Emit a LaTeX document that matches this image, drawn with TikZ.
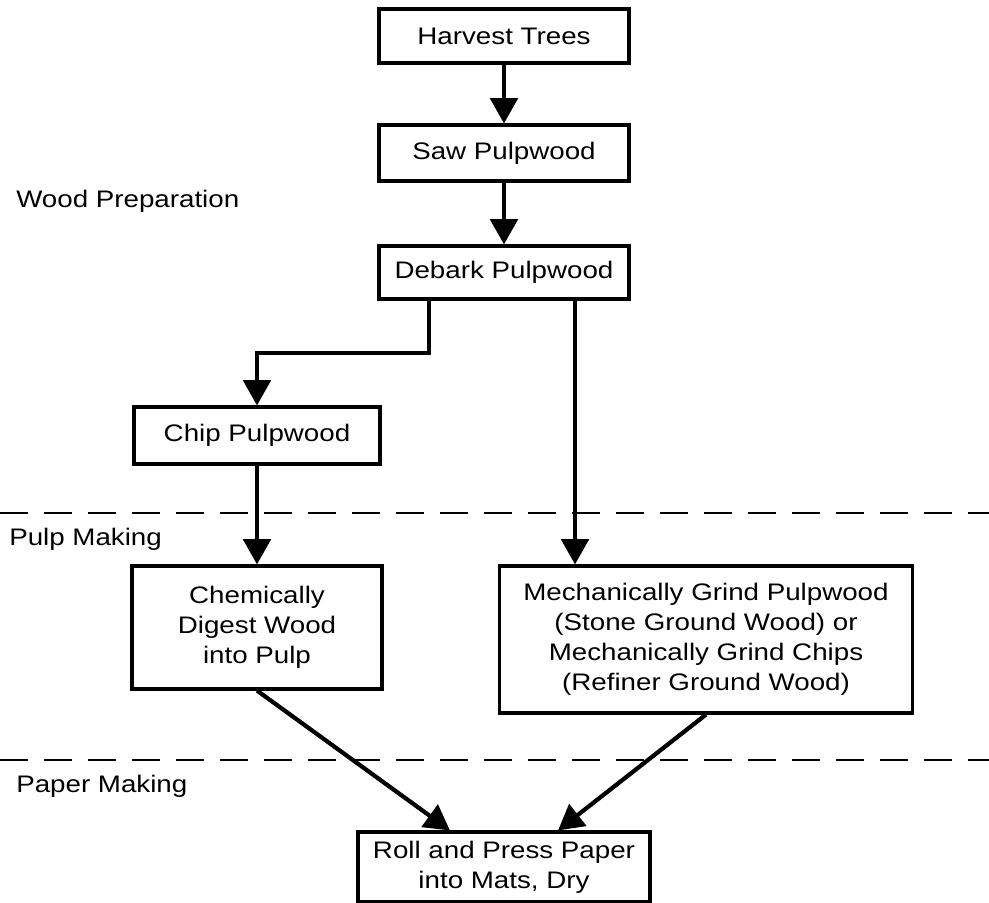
\documentclass[tikz,border=0pt]{standalone}
\usepackage{fontspec}
\setmainfont{Liberation Sans}[FakeStretch=1.16]
\usetikzlibrary{arrows.meta}

\tikzset{
  box/.style={draw, line width=2.2pt, align=center, inner sep=0pt},
  flow/.style={line width=3pt, -{Triangle[length=6.3mm,width=6.8mm]}},
  stage/.style={anchor=base west, inner sep=0pt},
  sep/.style={line width=2pt, dash pattern=on 0.7cm off 0.4cm}
}

\begin{document}
\begin{tikzpicture}[x=0.025cm, y=-0.025cm, font=\fontsize{17}{21.3}\selectfont] %[scale=0.8]
  \useasboundingbox (0,0) rectangle (989,903);
  \node [box, minimum width=6.25cm, minimum height=1.35cm] (ht) at (504,36) {Harvest Trees};
  \node [box, minimum width=6.25cm, minimum height=1.4cm] (sp) at (504,153) {Saw Pulpwood};
  \node [box, minimum width=6.25cm, minimum height=1.325cm] (dp) at (504,272.5) {Debark Pulpwood};
  \node [box, minimum width=6.15cm, minimum height=1.425cm] (cp) at (257,435.5) {Chip Pulpwood};
  \node [box, minimum width=6.25cm, minimum height=3.075cm] (cd) at (257,627.5) {Chemically\\Digest Wood\\into Pulp};
  \node [box, minimum width=10.3cm, minimum height=3.675cm] (mg) at (706,639.5) {Mechanically Grind Pulpwood\\(Stone Ground Wood) or\\Mechanically Grind Chips\\(Refiner Ground Wood)};
  \node [box, minimum width=7.3cm, minimum height=1.75cm] (rp) at (504,867) {Roll and Press Paper\\into Mats, Dry};
  \node [stage] (wp) at (16,207) {Wood Preparation};
  \node [stage] (pm) at (9,545) {Pulp Making};
  \node [stage] (pk) at (16,792) {Paper Making};
  \draw [sep] (0,513) -- (989,513);
  \draw [sep] (0,760) -- (989,760);
  \coordinate (bend) at (429,353);
  \coordinate (tap) at (575,299);
  \draw [flow] (ht) -- (sp);
  \draw [flow] (sp) -- (dp);
  \draw [flow] (dp.south -| bend) -- (bend) -| (cp.north);
  \draw [flow] (dp.south -| tap) -- (tap |- mg.north);
  \draw [flow] (cp) -- (cd);
  \draw [flow] (cd.south) -- ([xshift=-1.35cm]rp.north);
  \draw [flow] (mg.south) -- ([xshift=1.35cm]rp.north);
\end{tikzpicture}
\end{document}
